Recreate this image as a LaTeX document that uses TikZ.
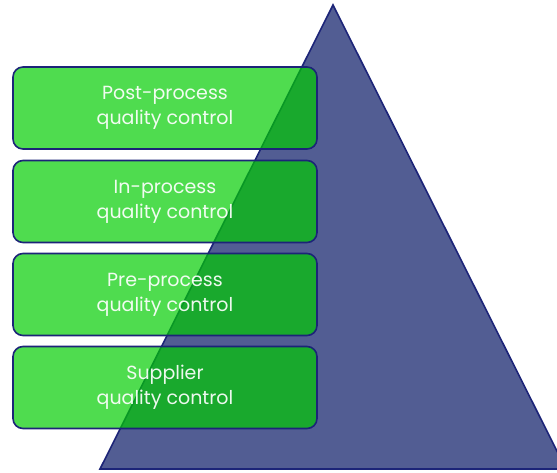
\documentclass[tikz,border=0pt]{standalone}
\usepackage{fontspec}
\setmainfont{Poppins}
\definecolor{navy}{RGB}{28,36,120}
\definecolor{trifill}{RGB}{82,93,147}
\definecolor{boxgreen}{RGB}{0,204,0}
\tikzset{
  qbox/.style={draw=navy, line width=1.6pt, fill=boxgreen, fill opacity=0.69, text opacity=0.92,
    rounded corners=10pt, minimum width=304pt, minimum height=82pt, inner sep=0pt,
    text=white, align=center, font=\fontsize{19}{25}\selectfont},
}
\begin{document}
\begin{tikzpicture}[x=1pt,y=-1pt]
\useasboundingbox (0,0) rectangle (557,472);
\clip (0,0) rectangle (557,472);
\coordinate (apex) at (333,5);
\coordinate (bl) at (100,469);
\coordinate (br) at (566,469);
\draw[navy, line width=1.6pt, fill=trifill, line join=miter] (apex) -- (bl) -- (br) -- cycle;
\node[qbox] (post) at (165,108) {Post-process\\quality control};
\node[qbox] (in) at (165,201.5) {In-process\\quality control};
\node[qbox] (pre) at (165,294.5) {Pre-process\\quality control};
\node[qbox] (sup) at (165,387.5) {Supplier\\quality control};
\end{tikzpicture}
\end{document}
